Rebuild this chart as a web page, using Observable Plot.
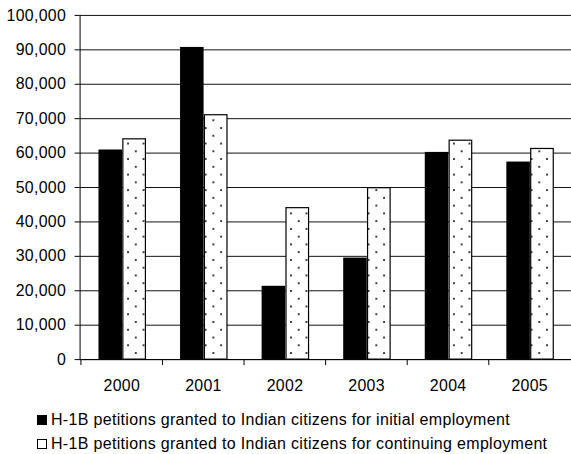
<!DOCTYPE html>
<html>
<head>
<meta charset="utf-8">
<script src="https://cdn.jsdelivr.net/npm/d3@7"></script>
<script src="https://cdn.jsdelivr.net/npm/@observablehq/plot@0.6"></script>
<style>
  html, body { margin: 0; padding: 0; background: #fff; overflow: hidden; }
  body { font-family: "Liberation Sans", Arial, sans-serif; width: 571px; height: 454px; position: relative; }
  #legend { position: absolute; left: 37px; top: 408px; font-size: 16px; line-height: 24.3px; color: #000; white-space: nowrap; letter-spacing: 0.32px; }
  .sw { display: inline-block; width: 10px; height: 10px; margin-right: 4px; box-sizing: border-box; }
  .sw.initial { background: #000; }
  .sw.continuing { background: #fff; border: 1px solid #000; }
  #chart svg text { letter-spacing: 0.3px; }
</style>
</head>
<body>
<div id="chart"></div>
<div id="legend"></div>
<script>
// Fiscal years shown on the x axis
const years = ["2000", "2001", "2002", "2003", "2004", "2005"];
// H-1B petitions granted to Indian citizens, by purpose
const initialEmployment = [60900, 90700, 21300, 29500, 60200, 57400];
const continuingEmployment = [64000, 71000, 44000, 49800, 63600, 61200];
const seriesLabels = [
  "H-1B petitions granted to Indian citizens for initial employment",
  "H-1B petitions granted to Indian citizens for continuing employment"
];
const yTicks = d3.range(0, 100001, 10000);

const initialRows = years.map((year, i) => ({year, value: initialEmployment[i]}));
const continuingRows = years.map((year, i) => ({year, value: continuingEmployment[i]}));

const width = 574, marginLeft = 80, marginRight = 0;
const band = (width - marginLeft - marginRight) / years.length;

const chart = Plot.plot({
  width,
  height: 400,
  marginLeft,
  marginRight,
  marginTop: 15,
  marginBottom: 39,
  style: {fontFamily: "'Liberation Sans', Arial, sans-serif", fontSize: "16px", color: "#000", background: "#fff"},
  x: {domain: years, padding: 0, label: null},
  y: {domain: [0, 100000], label: null},
  marks: [
    Plot.gridY(yTicks, {stroke: "#111", strokeOpacity: 1}),
    Plot.barY(initialRows, {x: "year", y: "value", fill: "#000", insetLeft: 18, insetRight: band - 42}),
    Plot.barY(continuingRows, {x: "year", y: "value", fill: "url(#dots)", stroke: "#000", strokeWidth: 1.2,
      insetLeft: 42.5, insetRight: band - 65.5}),
    Plot.frame({anchor: "left", stroke: "#000"}),
    Plot.ruleY([0], {stroke: "#000"}),
    Plot.axisY(yTicks, {tickSize: 5, tickPadding: 9, tickFormat: d3.format(","), fontSize: 16, label: null}),
    Plot.axisX({tickSize: 6, text: null, dx: -band / 2, label: null}),
    Plot.axisX({tickSize: 0, tickPadding: 20, fontSize: 16, label: null})
  ]
});

// Stippled fill for the continuing-employment bars
const svg = d3.select(chart);
const defs = svg.insert("defs", ":first-child");
const pat = defs.append("pattern")
  .attr("id", "dots")
  .attr("patternUnits", "userSpaceOnUse")
  .attr("width", 15.6)
  .attr("height", 15.6);
pat.append("rect").attr("width", 15.6).attr("height", 15.6).attr("fill", "#fff");
pat.append("rect").attr("x", 3).attr("y", 3).attr("width", 1.8).attr("height", 1.8).attr("fill", "#1a1a1a");
pat.append("rect").attr("x", 10.8).attr("y", 10.8).attr("width", 1.8).attr("height", 1.8).attr("fill", "#1a1a1a");

document.getElementById("chart").append(chart);

const legend = d3.select("#legend");
["initial", "continuing"].forEach((key, i) => {
  const row = legend.append("div");
  row.append("span").attr("class", "sw " + key);
  row.append("span").text(seriesLabels[i]);
});
</script>
</body>
</html>
